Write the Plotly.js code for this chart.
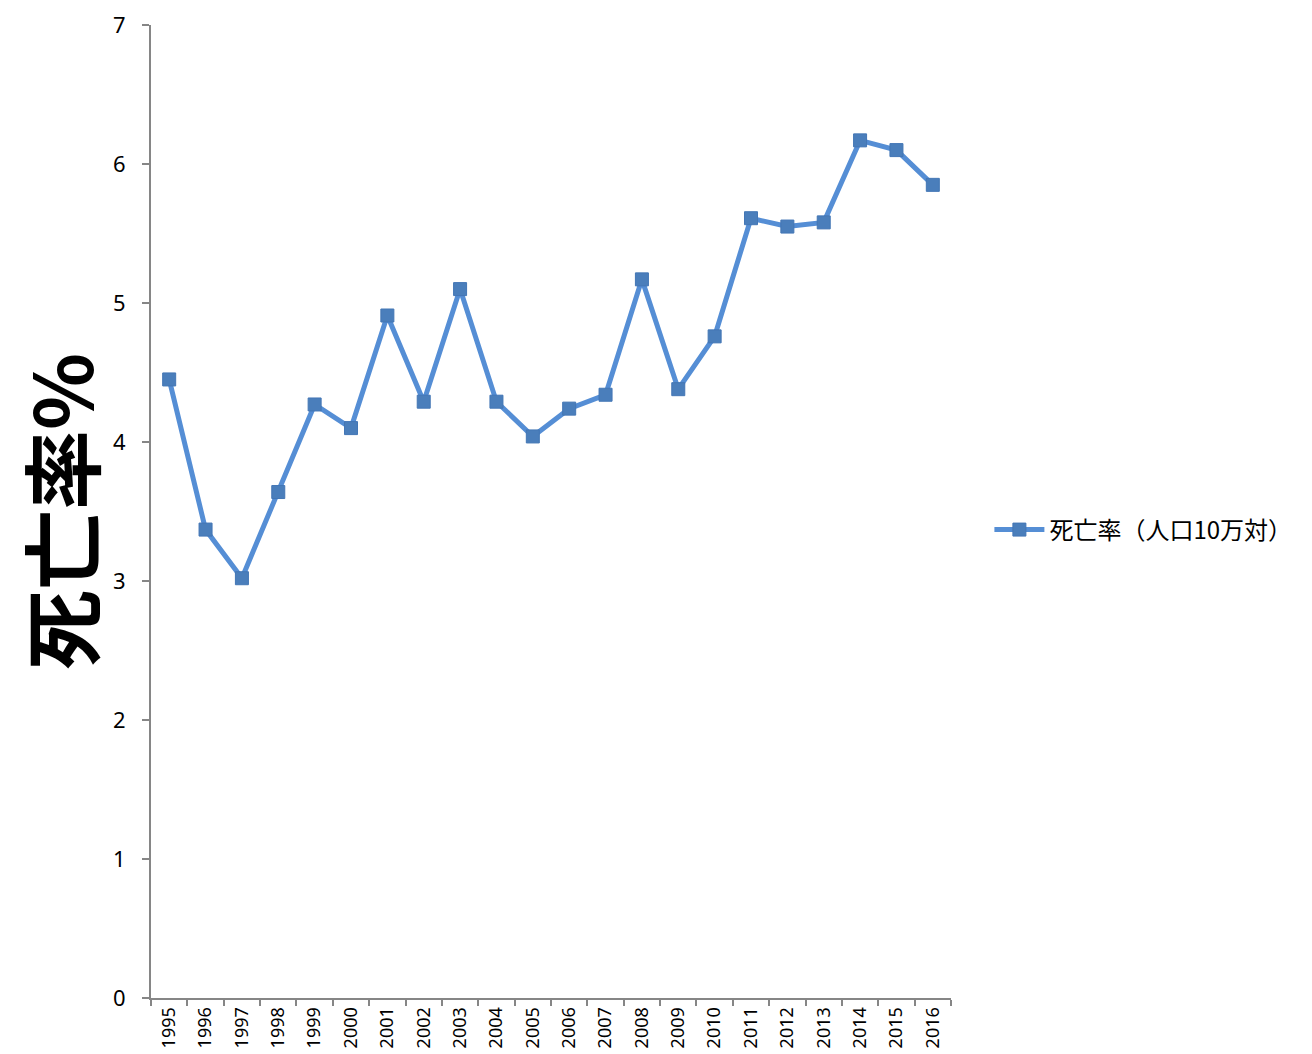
<!DOCTYPE html>
<html>
<head>
<meta charset="utf-8">
<script src="https://cdn.plot.ly/plotly-3.0.1.min.js"></script>
<style>html,body{margin:0;padding:0;background:#fff;}#chart{width:1312px;height:1054px;}</style>
</head>
<body>
<div id="chart"></div>
<script>
var years = ["1995","1996","1997","1998","1999","2000","2001","2002","2003","2004","2005","2006","2007","2008","2009","2010","2011","2012","2013","2014","2015","2016"];
var mortality = [4.45,3.37,3.02,3.64,4.27,4.10,4.91,4.29,5.10,4.29,4.04,4.24,4.34,5.17,4.38,4.76,5.61,5.55,5.58,6.17,6.10,5.85];
var seriesName = "死亡率（人口10万対）";
var yTitle = "死亡率%";
var yTicks = [0,1,2,3,4,5,6,7];

var trace = {
  x: years,
  y: mortality,
  type: "scatter",
  mode: "lines+markers",
  name: seriesName,
  line: {color: "#558ed5", width: 5},
  marker: {symbol: "square", size: 13, color: "#4a7ebb", line: {color: "#4376b5", width: 1}}
};

var layout = {
  width: 1312,
  height: 1054,
  margin: {l: 151, r: 361, t: 25, b: 56},
  paper_bgcolor: "#ffffff",
  plot_bgcolor: "#ffffff",
  font: {family: "Noto Sans, Noto Sans CJK JP, sans-serif", color: "#000000"},
  showlegend: true,
  legend: {
    x: 1.048, y: 0.481, xanchor: "left", yanchor: "middle",
    itemwidth: 50,
    font: {size: 24, family: "Noto Sans CJK JP, Noto Sans, sans-serif", color: "#000"},
    bgcolor: "rgba(0,0,0,0)"
  },
  xaxis: {
    type: "category",
    range: [-0.5, 21.5],
    showgrid: false,
    zeroline: false,
    showline: true,
    linecolor: "#868686",
    linewidth: 2,
    ticks: "outside",
    tickson: "boundaries",
    ticklen: 6,
    tickwidth: 2,
    tickcolor: "#868686",
    tickangle: -90,
    tickfont: {size: 18, color: "#000"},
    fixedrange: true
  },
  yaxis: {
    range: [0, 7],
    tickvals: yTicks,
    ticktext: yTicks.map(String),
    showgrid: false,
    zeroline: false,
    showline: true,
    linecolor: "#868686",
    linewidth: 2,
    ticks: "outside",
    ticklen: 7,
    tickwidth: 2,
    tickcolor: "#868686",
    tickfont: {size: 22, color: "#000"},
    ticklabelstandoff: 12,
    title: {text: yTitle, font: {size: 80, family: "Noto Sans CJK JP, sans-serif", weight: "bold", color: "#000"}, standoff: 26},
    fixedrange: true
  }
};

Plotly.newPlot("chart", [trace], layout, {displayModeBar: false, staticPlot: true});
</script>
</body>
</html>
